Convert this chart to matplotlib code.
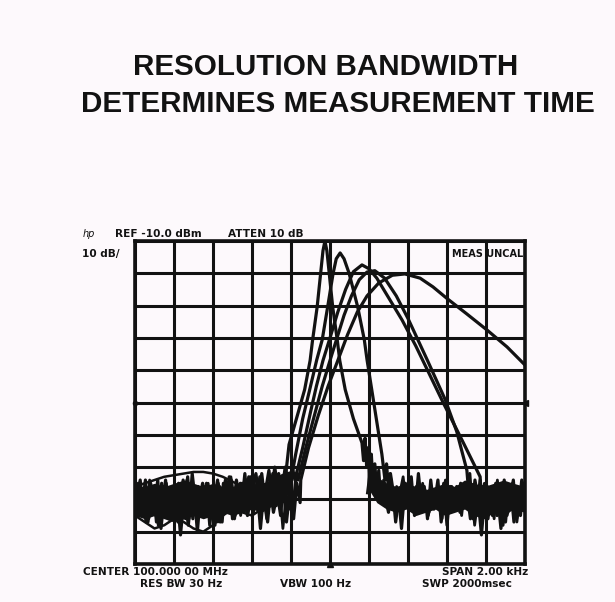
import numpy as np
import matplotlib
matplotlib.use("Agg")
import matplotlib.pyplot as plt

# screen: 10 div across, 10 dB/div from REF -10 dBm
REF_DB = -10
BOTTOM_DB = -110

# ---- signal responses (x in divisions, level in dBm) ----
A_X = [3.85, 3.95, 4.14, 4.35, 4.49, 4.55, 4.67, 4.76, 4.82, 4.87, 4.92, 4.98, 5.07,
       5.19, 5.25, 5.39, 5.60, 5.82, 5.86, 5.90, 5.94, 5.98, 6.02, 6.06, 6.10, 6.15,
       6.20, 6.25, 6.30]
A_DB = [-84, -73, -65, -56, -47, -41, -30.5, -20, -13, -10, -13, -20, -30.5,
        -41, -47, -56, -65, -72.5, -78, -71, -80, -74, -83, -76, -85, -79,
        -88, -81, -90]

B_X = [4.00, 4.12, 4.30, 4.48, 4.66, 4.80, 4.94, 5.08, 5.16, 5.26, 5.36, 5.49, 5.71,
       5.88, 5.95, 6.07, 6.20, 6.33, 6.41, 6.45, 6.50, 6.55]
B_DB = [-84, -76, -65, -56, -46.8, -40.6, -30.4, -20, -15.5, -13.7, -15.5, -20, -30.4,
        -40.6, -46.8, -56, -66, -76, -84, -79, -87, -82]

C_X = [4.10, 4.30, 4.50, 4.65, 4.82, 5.00, 5.20, 5.40, 5.60, 5.82, 6.00, 6.20, 6.40,
       6.60, 6.85, 7.20, 7.50, 7.90, 8.40, 8.85]
C_DB = [-84, -74, -63, -55, -47, -40, -32, -25, -19.5, -17.4, -18.6, -21.5, -25.5,
        -29.5, -34.5, -42.5, -50, -60, -72, -83]

C2_X = [4.18, 4.38, 4.60, 4.80, 5.00, 5.18, 5.36, 5.55, 5.75, 5.95, 6.15, 6.40, 6.70,
        7.00, 7.50, 7.95, 8.25, 8.51]
C2_DB = [-84, -74, -64, -55, -47, -40, -33, -27, -22, -19.6, -19.2, -21.5, -27,
         -34, -47, -59, -69, -81]

D_X = [4.25, 4.45, 4.70, 4.95, 5.20, 5.45, 5.70, 5.95, 6.25, 6.60, 6.92, 7.31, 7.64,
       8.00, 8.51, 9.03, 9.54, 10.05]
D_DB = [-84, -74, -64, -55, -47, -39, -32, -27, -23, -20.6, -20.2, -21.5, -24.2,
        -27.8, -32.6, -37.6, -42.8, -49]

# ---- noise floor (121 samples across 10 div) ----
NOISE_1 = [-90, -85, -95, -88, -97, -86, -92, -84, -99, -89, -93,
           -87, -96, -89, -101, -90, -84, -94, -87, -96, -88, -92,
           -85, -98, -89, -93, -86, -95, -90, -83, -96, -88, -92,
           -85, -90, -83, -93, -86, -89, -82, -91, -85, -88, -80,
           -87, -83, -89, -81, -86, -79, -84, -88, -86, -90, -87,
           -92, -86, -90, -88, -94, -87, -91, -85, -93, -88, -90,
           -84, -92, -87, -95, -89, -82, -93, -88, -97, -85, -91,
           -89, -94, -86, -92, -88, -99, -87, -90, -83, -95, -88,
           -91, -86, -96, -84, -93, -89, -92, -85, -98, -87, -90,
           -86, -94, -88, -91, -82, -96, -89, -93, -86, -92, -88,
           -95, -85, -90, -87, -97, -86, -91, -89, -94, -84, -90]
NOISE_2 = [-94, -88, -92, -84, -96, -90, -87, -98, -85, -93, -89,
           -91, -86, -97, -89, -93, -83, -95, -88, -100, -87, -92,
           -89, -94, -86, -91, -97, -85, -92, -88, -95, -84, -90,
           -88, -84, -91, -86, -82, -90, -85, -87, -81, -89, -84,
           -82, -88, -80, -85, -83, -87, -81, -86, -89, -85, -91,
           -88, -93, -86, -91, -89, -95, -87, -90, -84, -92, -88,
           -90, -86, -94, -88, -91, -85, -96, -87, -92, -83, -95,
           -88, -91, -86, -97, -89, -93, -85, -90, -88, -94, -82,
           -92, -87, -95, -89, -91, -84, -97, -88, -93, -86, -90,
           -93, -85, -90, -88, -96, -87, -92, -84, -95, -89, -91,
           -87, -93, -86, -98, -89, -91, -85, -94, -88, -92, -86]
NOISE_3 = [-87, -93, -89, -97, -86, -91, -95, -88, -92, -84, -96,
           -88, -92, -85, -94, -90, -98, -87, -91, -86, -95, -89,
           -93, -86, -90, -84, -96, -89, -92, -87, -94, -91, -85,
           -91, -86, -89, -84, -92, -83, -88, -86, -90, -82, -87,
           -84, -89, -83, -86, -80, -88, -85, -90, -87, -92, -88,
           -90, -85, -93, -88, -91, -86, -94, -89, -87, -92, -85,
           -93, -88, -91, -84, -96, -90, -86, -93, -89, -99, -87,
           -92, -85, -90, -96, -88, -91, -84, -94, -87, -92, -89,
           -95, -88, -90, -83, -93, -86, -91, -97, -88, -92, -85,
           -90, -94, -87, -92, -89, -85, -96, -88, -91, -86, -93,
           -89, -95, -86, -92, -88, -90, -84, -96, -87, -91, -89]

# dense core of the overlapping noise sweeps
BAND_L_X = [0.0, 0.25, 0.5, 0.75, 1.0, 1.25, 1.5, 1.75, 2.0, 2.25, 2.5, 2.75, 3.0,
            3.25, 3.5, 3.75, 4.0]
BAND_L_HI = [-86, -86, -85, -86, -85, -84, -85, -86, -85, -86, -86, -85, -86,
             -85, -84, -82, -81]
BAND_L_LO = [-95, -96, -95, -96, -97, -96, -95, -96, -95, -94, -95, -94, -93,
             -94, -92, -90, -87]
BAND_R_X = [5.95, 6.2, 6.45, 6.7, 6.95, 7.2, 7.45, 7.7, 7.95, 8.2, 8.45, 8.7, 8.95,
            9.2, 9.45, 9.7, 10.0]
BAND_R_HI = [-80, -83, -85, -86, -85, -86, -87, -86, -85, -86, -84, -85, -86,
             -85, -84, -85, -86]
BAND_R_LO = [-86, -91, -93, -94, -93, -95, -94, -93, -95, -94, -93, -95, -96,
             -94, -95, -93, -94]

# smoother noise sweeps on the left side
SMOOTH_X = [0.0, 0.25, 0.5, 0.75, 1.0, 1.25, 1.5, 1.75, 2.0, 2.25, 2.5, 2.75, 3.0,
            3.25, 3.5, 3.75, 4.0]
SMOOTH_1 = [-86, -85, -84, -83, -82.5, -82, -81.5, -81.5, -82, -83, -84.5, -86, -87,
            -87.5, -87, -86, -85]
SMOOTH_2 = [-92, -90, -89, -88, -87, -86.5, -87, -88, -89, -90, -90, -89.5, -89,
            -89.5, -90, -89, -88]
SMOOTH_3 = [-95, -97, -99, -98, -96, -97, -99, -100, -98, -95, -93, -94, -95,
            -93, -92, -91, -90]

HEADER = ["hp", "REF -10.0 dBm", "ATTEN 10 dB", "10 dB/", "MEAS UNCAL"]
FOOTER = ["CENTER 100.000 00 MHz", "SPAN 2.00 kHz", "RES BW 30 Hz", "VBW 100 Hz",
          "SWP 2000msec"]

INK = "#121212"
PAPER = "#fdf9fc"


def full_trace(sx, sdb, noise, shift):
    # noise samples left and right of the response, response in between
    nx = np.linspace(0, 10, len(noise)) + shift
    noise = np.asarray(noise, dtype=float)
    left = (nx < sx[0]) & (nx >= 0)
    right = (nx > sx[-1]) & (nx <= 10)
    x = np.concatenate([nx[left], sx, nx[right]])
    y = np.concatenate([noise[left], sdb, noise[right]])
    return x, y


def px(x, y):
    return x / 615.0, 1 - y / 602.0


fig = plt.figure(figsize=(6.15, 6.02), dpi=100, facecolor=PAPER)
ax = fig.add_axes([135 / 615, 38 / 602, 390 / 615, 323 / 602])
ax.set_facecolor(PAPER)
ax.set_xlim(0, 10)
ax.set_ylim(BOTTOM_DB, REF_DB)
ax.set_xticks(range(0, 11))
ax.set_yticks(range(BOTTOM_DB, REF_DB + 1, 10))
ax.grid(True, color=INK, linewidth=2.2)
ax.tick_params(length=0, labelbottom=False, labelleft=False)
for s in ax.spines.values():
    s.set_linewidth(2.6)
    s.set_color(INK)

ax.fill_between(BAND_L_X, BAND_L_LO, BAND_L_HI, color=INK, linewidth=0)
ax.fill_between(BAND_R_X, BAND_R_LO, BAND_R_HI, color=INK, linewidth=0)

traces = [(A_X, A_DB, NOISE_1, 0.0), (B_X, B_DB, NOISE_2, 0.017),
          (C_X, C_DB, NOISE_3, 0.034), (C2_X, C2_DB, NOISE_1[::-1], 0.05),
          (D_X, D_DB, NOISE_2[::-1], 0.067)]
for sx, sdb, nz, sh in traces:
    x, y = full_trace(sx, sdb, nz, sh)
    ax.plot(x, y, color=INK, linewidth=2.3, solid_joinstyle="round")

# one more sweep that only shows as noise (left and right of the responses)
ex = np.linspace(0, 10, len(NOISE_3)) + 0.042
ey = np.where((ex < 4.0) | (ex > 5.95), NOISE_3[::-1], np.nan)
ax.plot(ex, ey, color=INK, linewidth=2.0)

for s in (SMOOTH_1, SMOOTH_2, SMOOTH_3):
    ax.plot(SMOOTH_X, s, color=INK, linewidth=1.8)

# centre-line markers
ax.plot([10], [-60], marker="<", color=INK, markersize=5, clip_on=False)
ax.plot([0], [-60], marker="o", color=INK, markersize=3, clip_on=False)
ax.plot([5], [BOTTOM_DB], marker="^", color=INK, markersize=4, clip_on=False)

# title
tfont = dict(family="Liberation Sans", weight="bold", size=21.3, color=INK)
fig.text(*px(326, 75), "RESOLUTION BANDWIDTH", ha="center", va="baseline", **tfont)
fig.text(*px(338, 112), "DETERMINES MEASUREMENT TIME", ha="center", va="baseline",
         **tfont)

# annotation text on the CRT
sfont = dict(family="DejaVu Sans", weight="bold", size=7.6, color=INK)
fig.text(*px(83, 234), HEADER[0], ha="left", va="center", style="italic",
         family="DejaVu Sans", size=7, color=INK)
fig.text(*px(115, 234), HEADER[1], ha="left", va="center", **sfont)
fig.text(*px(228, 234), HEADER[2], ha="left", va="center", **sfont)
fig.text(*px(82, 254), HEADER[3], ha="left", va="center", **sfont)
fig.text(*px(523, 254), HEADER[4], ha="right", va="center",
         **dict(sfont, size=7.0))

fig.text(*px(83, 572), FOOTER[0], ha="left", va="center", **sfont)
fig.text(*px(528, 572), FOOTER[1], ha="right", va="center", **sfont)
fig.text(*px(140, 584), FOOTER[2], ha="left", va="center", **sfont)
fig.text(*px(280, 584), FOOTER[3], ha="left", va="center", **sfont)
fig.text(*px(422, 584), FOOTER[4], ha="left", va="center", **sfont)

fig.savefig("out.png", dpi=100, facecolor=PAPER)
